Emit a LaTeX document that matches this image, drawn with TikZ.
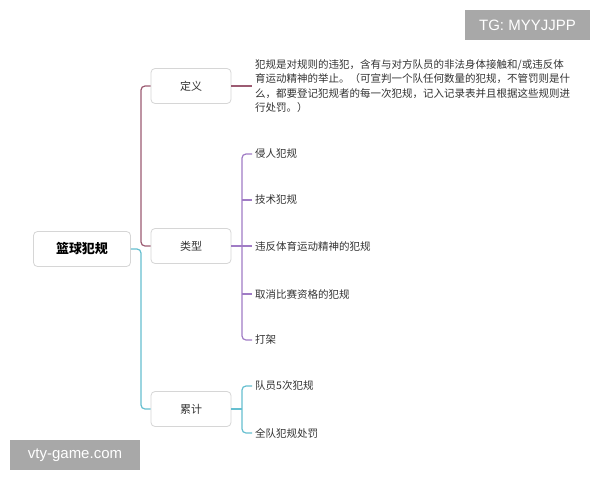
\documentclass[tikz,border=0pt]{standalone}
\usepackage{fontspec}
\setmainfont{Liberation Sans}
\newfontfamily\cjk{Noto Sans CJK SC}
\definecolor{cmaroon}{HTML}{9C5B72}
\definecolor{cpurple}{HTML}{A07CC5}
\definecolor{cteal}{HTML}{66BFD0}
\definecolor{ctext}{HTML}{333333}
\definecolor{cborder}{HTML}{D6D6D6}
\definecolor{cmark}{HTML}{A8A8A8}
\begin{document}
\begin{tikzpicture}[x=1pt,y=-1pt,
  topic/.style={draw=cborder, line width=0.8pt, fill=white, rounded corners=4pt, minimum width=80pt, minimum height=35pt, inner sep=0pt, font=\cjk\fontsize{11}{13}\selectfont, text=ctext},
  rootbox/.style={topic, minimum width=97pt, font=\cjk\bfseries\fontsize{13}{15}\selectfont, text=black},
  leaf/.style={anchor=west, inner xsep=3pt, inner ysep=1pt, font=\cjk\fontsize{10.5}{14.5}\selectfont, text=ctext, align=left},
  link/.style={line width=1.2pt, rounded corners=4pt},
  wmark/.style={fill=cmark, text=white, inner sep=0pt, font=\fontsize{15}{17}\selectfont}
]
\useasboundingbox (0,0) rectangle (600,480);
\fill[white] (0,0) rectangle (600,480);

\node[rootbox] (root) at (82,249) {篮球犯规};
\node[topic] (def) at (191,86) {定义};
\node[topic] (typ) at (191,246) {类型};
\node[topic] (acc) at (191,409) {累计};

\node[leaf] (deftext) at (252,86) {犯规是对规则的违犯，含有与对方队员的非法身体接触和/或违反体\\育运动精神的举止。（可宣判一个队任何数量的犯规，不管罚则是什\\么，都要登记犯规者的每一次犯规，记入记录表并且根据这些规则进\\行处罚。）};

\node[leaf] (t1) at (252,154) {侵人犯规};
\node[leaf] (t2) at (252,200) {技术犯规};
\node[leaf] (t3) at (252,246) {违反体育运动精神的犯规};
\node[leaf] (t4) at (252,294) {取消比赛资格的犯规};
\node[leaf] (t5) at (252,340) {打架};

\node[leaf] (a1) at (252,386) {队员5次犯规};
\node[leaf] (a2) at (252,433) {全队犯规处罚};

\coordinate (trunk) at (141,249);
\coordinate (tb) at (242,0);

% root connectors
\draw[link, cmaroon] (def.west) -| (trunk |- typ.west) -- (typ.west);
\draw[link, cteal] (root.east) -- (trunk) |- (acc.west);

% definition
\draw[link, cmaroon] (def.east) -- (deftext.west);

% types
\draw[link, cpurple] (t1.west) -| (tb |- t5.west) -- (t5.west);
\draw[link, cpurple] (typ.east) -- (t3.west);
\draw[link, cpurple] (t2.west -| tb) -- (t2.west);
\draw[link, cpurple] (t4.west -| tb) -- (t4.west);

% accumulation
\draw[link, cteal] (a1.west) -| (tb |- a2.west) -- (a2.west);
\draw[link, cteal] (acc.east) -- (acc.east -| tb);

% watermarks
\node[wmark, minimum width=125pt, minimum height=30pt] (wm1) at (527.5,25) {TG: MYYJJPP};
\node[wmark, minimum width=130pt, minimum height=30pt] (wm2) at (75,455) {vty-game.com};
\end{tikzpicture}
\end{document}
